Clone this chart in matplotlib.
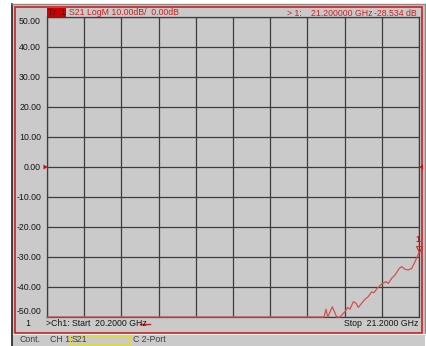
import matplotlib.pyplot as plt
from matplotlib.patches import Rectangle, Polygon
import numpy as np

# Трасса S21, ГГц / дБ (ниже -50 дБ прибор рисует по нижней кромке)
freq_ghz = [20.2000, 20.9446, 20.9500, 20.9546, 20.9670, 20.9788, 20.9876,
            20.9957, 21.0010, 21.0083, 21.0145, 21.0234, 21.0306, 21.0368,
            21.0460, 21.0548, 21.0637, 21.0728, 21.0790, 21.0879, 21.0997,
            21.1113, 21.1175, 21.1266, 21.1355, 21.1470, 21.1535, 21.1624,
            21.1712, 21.1804, 21.1892, 21.2000]
s21_db = [-50.0, -50.0, -47.4, -50.0, -46.6, -50.0, -50.0,
          -48.9, -48.2, -46.8, -47.4, -44.9, -45.4, -46.8,
          -45.4, -44.1, -43.2, -41.6, -41.9, -40.4, -39.0,
          -38.2, -38.8, -37.1, -36.0, -33.8, -33.2, -34.1,
          -34.3, -33.8, -31.6, -28.534]

y_ticks = [50, 40, 30, 20, 10, 0, -10, -20, -30, -40, -50]
f_start, f_stop = 20.2, 21.2
marker_freq, marker_db = 21.2, -28.534

W, H = 427, 346
GRAY = '#cacaca'
RED = '#cc2020'
TRACE = '#d45050'
GRID = '#3c3c3c'
INK = '#151515'
FONT = 'Liberation Sans'
FS = 6.3

fig = plt.figure(figsize=(W / 100, H / 100), dpi=100)
fig.patch.set_facecolor('white')

# фон окна в пиксельных координатах
bg = fig.add_axes([0, 0, 1, 1])
bg.set_xlim(0, W)
bg.set_ylim(H, 0)
bg.axis('off')


def txt(x, y, s, **kw):
    opts = dict(fontsize=FS, family=FONT, va='center', color=INK)
    opts.update(kw)
    bg.text(x, y, s, **opts)


bg.add_patch(Rectangle((12, 4), 413, 342, facecolor=GRAY, edgecolor='none'))
bg.plot([12, 12], [4, 346], color='#202020', lw=1.2)
bg.plot([12, 425], [4, 4], color='#8a8a8a', lw=1)
bg.plot([425, 425], [4, 334], color='#8a8a8a', lw=1)
bg.add_patch(Rectangle((15.5, 6.5), 407, 326, facecolor='none', edgecolor=RED, lw=1.2))

# строка состояния
bg.plot([13, W], [334, 334], color='#f2f2f2', lw=0.8)
bg.add_patch(Rectangle((70.5, 335.5), 59.5, 8.5, facecolor='none',
                       edgecolor='#e0d840', lw=0.9))
txt(20, 340, 'Cont.', color='#404040')
txt(50, 340, 'CH 1:', color='#404040')
txt(72, 340, 'S21', color='#404040')
txt(133, 340, 'C 2-Port', color='#404040')

# заголовок трассы
bg.add_patch(Rectangle((47, 8), 19, 9, facecolor='#d00000', edgecolor='none'))
txt(48.5, 12.8, 'Tr  1', color='#1a0000')
txt(69, 12.8, 'S21 LogM 10.00dB/  0.00dB', color=RED)
txt(287, 13.5, '> 1:', color=RED)
txt(311, 13.5, '21.200000 GHz', color=RED)
txt(417, 13.5, '-28.534 dB', ha='right', color=RED)

# подписи оси Y
for v in y_ticks:
    y = 17 + (50 - v) * 3
    if v == 50:
        y += 5
    elif v == -50:
        y -= 6
    txt(41, y, f'{v:.2f}', ha='right')

# нижняя строка: старт / стоп
txt(25, 323.5, '1')
txt(46, 323.5, '>Ch1: Start  20.2000 GHz')
bg.plot([140, 150], [323.5, 323.5], color=RED, lw=1)
txt(418, 323.5, 'Stop  21.2000 GHz', ha='right')

# опорный уровень 0 дБ — красные треугольники по краям
bg.add_patch(Polygon([[43.5, 164.5], [43.5, 169.5], [47.5, 167]], closed=True,
                     facecolor='#e00000', edgecolor='none'))
bg.add_patch(Polygon([[423, 164.5], [423, 169.5], [419.5, 167]], closed=True,
                     facecolor='#e00000', edgecolor='none'))

# сетка и трасса
ax = fig.add_axes([47 / W, 1 - 317 / H, 372 / W, 300 / H])
ax.set_facecolor(GRAY)
ax.set_xlim(f_start, f_stop)
ax.set_ylim(-50, 50)
ax.set_xticks(np.linspace(f_start, f_stop, 11))
ax.set_yticks(y_ticks)
ax.grid(True, color=GRID, lw=0.9)
ax.tick_params(length=0, labelleft=False, labelbottom=False)
for s in ax.spines.values():
    s.set_color(GRID)
    s.set_linewidth(0.9)

ax.plot(freq_ghz, s21_db, color=TRACE, lw=0.9, clip_on=False, zorder=3)
ax.plot([marker_freq], [marker_db + 1.3], marker='v', ms=4.5, mfc='none',
        mec='#c03030', mew=0.8, clip_on=False, zorder=4)
ax.annotate('1', (marker_freq, marker_db), xytext=(-0.5, 6.5), textcoords='offset points',
            ha='center', va='bottom', fontsize=FS, family=FONT, color='#b02020',
            fontweight='bold', annotation_clip=False)

fig.savefig('out.png', dpi=100, facecolor=fig.get_facecolor())
